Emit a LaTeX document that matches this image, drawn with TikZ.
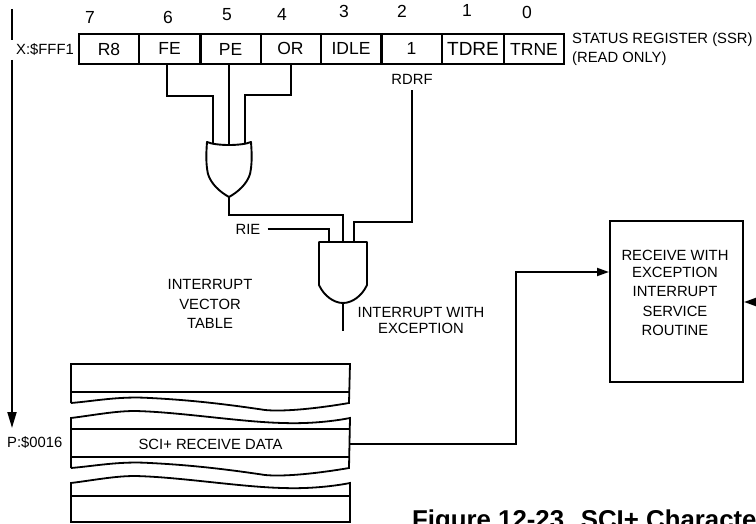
\documentclass[tikz,border=0pt]{standalone}
\usepackage{fontspec}
\setmainfont{Liberation Sans}
\usetikzlibrary{arrows.meta}
\tikzset{
  wire/.style={line width=1.9pt,line join=miter},
  arrowed/.style={wire,-{Triangle[length=12pt,width=8pt]}},
  axisarrow/.style={wire,-{Triangle[length=16pt,width=9pt]}},
  cell/.style={draw,line width=2pt,anchor=center,minimum height=30pt,inner sep=0pt,font=\fontsize{17.5}{20}\selectfont},
  bitnum/.style={font=\fontsize{17.5}{19}\selectfont,inner sep=0pt},
  lab/.style={font=\fontsize{14.8}{17}\selectfont,inner sep=0pt,align=center},
  mem/.style={line width=1.8pt,line join=miter},
}
\begin{document}
\begin{tikzpicture}[x=1pt,y=-1pt]
\useasboundingbox (0,0) rectangle (756,524);
% register cells
\node[cell,minimum width=60pt] (r8) at (109,49) {R8};
\node[cell,minimum width=61pt] (fe) at (169.5,49) {\raisebox{1pt}{FE}};
\node[cell,minimum width=60pt] (pe) at (230.5,49) {PE};
\node[cell,minimum width=60pt] (or) at (290.5,49) {\raisebox{2pt}{OR}};
\node[cell,minimum width=61pt] (idle) at (351,49) {\raisebox{1pt}{IDLE}};
\node[cell,minimum width=61pt] (one) at (411.5,49) {\raisebox{1pt}{1}};
\node[cell,minimum width=62pt] (tdre) at (473,49) {\fontsize{19}{20}\selectfont TDRE};
\node[cell,minimum width=60pt] (trne) at (534,49) {TRNE};
% bit numbers
\node[bitnum] (b7) at (90,17) {7};
\node[bitnum] (b6) at (168,17) {6};
\node[bitnum] (b5) at (227,15) {5};
\node[bitnum] (b4) at (282,14) {4};
\node[bitnum] (b3) at (344,11) {3};
\node[bitnum] (b2) at (402,11) {2};
\node[bitnum] (b1) at (467,10) {1};
\node[bitnum] (b0) at (527,12) {0};
% register labels
\node[lab,anchor=west,align=left,font=\fontsize{14.8}{19}\selectfont] (ssr) at (572,49) {STATUS REGISTER (SSR)\\(READ ONLY)};
\node[lab] (rdrf) at (412,79) {RDRF};
\node[lab,anchor=west] (xaddr) at (16,50) {X:\$FFF1};
\node[lab,anchor=west] (paddr) at (7,443) {P:\$0016};
% address axis
\coordinate (axa) at (12,9);
\coordinate (axb) at (12,40);
\coordinate (axc) at (12,60);
\coordinate (axd) at (12,428);
\draw[wire] (axa) -- (axb);
\draw[axisarrow] (axc) -- (axd);
% OR gate
\coordinate (orl) at (207,142);
\coordinate (orr) at (251,142);
\coordinate (orin) at (229,146);
\coordinate (orout) at (229,197);
\draw[wire,line join=round] (orl) .. controls (216,146) and (242,146) .. (orr)
  .. controls (252,155) and (252,165) .. (250,174)
  .. controls (247,184) and (238,192) .. (orout)
  .. controls (220,192) and (211,184) .. (208,174)
  .. controls (206,165) and (206,155) .. (orl) -- cycle;
\draw[wire] (fe.south -| 167,64) -- (167,96) -- (213,96) -- (213,143.5);
\draw[wire] (pe.south -| 229,64) -- (orin);
\draw[wire] (or.south -| 291,64) -- (291,95) -- (245,95) -- (245,143.5);
% AND gate
\coordinate (andl) at (319,242);
\coordinate (andr) at (367,242);
\coordinate (andout) at (343,303);
\coordinate (andend) at (343,331);
\draw[wire,line join=round] (andl) -- (andr) -- (367,285)
  .. controls (362,296) and (352,303) .. (andout)
  .. controls (334,303) and (324,296) .. (319,285) -- cycle;
\draw[wire] (andout) -- (andend);
\draw[wire] (orout) -- (229,215) -- (343,215) -- (343,242);
\node[lab] (rie) at (248,229) {RIE};
\draw[wire] (rie.east) ++(7,0) -- (329,229) -- (329,242);
\draw[wire] (rdrf.south) ++(0,6) -- (412,222) -- (354,222) -- (354,242);
% text
\node[lab,font=\fontsize{14.8}{19.5}\selectfont] (ivt) at (210,304) {INTERRUPT\\VECTOR\\TABLE};
\node[lab,font=\fontsize{14.8}{16}\selectfont] (iwe) at (421,320) {INTERRUPT WITH\\EXCEPTION};
% memory
\draw[mem] (71,403) -- (71,364) -- (350,364) -- (349,403)
  .. controls (320,408) and (285,412) .. (265,410)
  .. controls (225,404) and (190,400) .. (150,398)
  .. controls (120,396) and (95,401) .. (71,403);
\draw[mem] (71,392) -- (349,392);
\draw[mem] (71,468) -- (71,418)
  .. controls (95,415) and (115,411) .. (135,411)
  .. controls (180,412) and (240,422) .. (283,423)
  .. controls (310,424) and (335,421) .. (350,418)
  -- (349,468)
  .. controls (320,473) and (285,477) .. (265,475)
  .. controls (225,469) and (190,465) .. (150,463)
  .. controls (120,461) and (95,466) .. (71,468);
\draw[mem] (71,429) -- (350,429);
\node[minimum width=279pt,minimum height=28pt,inner sep=0pt,font=\fontsize{14.8}{17}\selectfont] (sci) at (210.5,444) {SCI+ RECEIVE DATA};
\draw[mem] (71,457) -- (350,457);
\draw[mem] (71,483)
  .. controls (95,480) and (115,476) .. (135,476)
  .. controls (180,477) and (240,487) .. (283,488)
  .. controls (310,489) and (335,486) .. (350,483)
  -- (350,522) -- (71,522) -- cycle;
\draw[mem] (71,496) -- (350,496);
% service routine
\node[draw,line width=2pt,minimum width=133pt,minimum height=161pt,inner sep=0pt] (isr) at (676.5,301.5) {};
\node[lab,font=\fontsize{14.8}{19.2}\selectfont] (isrt) at (675,293) {RECEIVE WITH\\[-2.5pt]EXCEPTION\\INTERRUPT\\SERVICE\\ROUTINE};
\coordinate (elbow) at (516,444);
\draw[arrowed] (sci.east) -- (elbow) -- (516,272) -- (isr.west |- 0,272);
\coordinate (rightin) at (756,302);
\draw[arrowed] (rightin) -- (isr.east |- 0,302);
% caption
\node[anchor=base west,inner sep=0pt,font=\bfseries\fontsize{25.8}{28}\selectfont] (cap) at (412,528.5) {Figure 12-23. SCI+ Characte};
\end{tikzpicture}
\end{document}
